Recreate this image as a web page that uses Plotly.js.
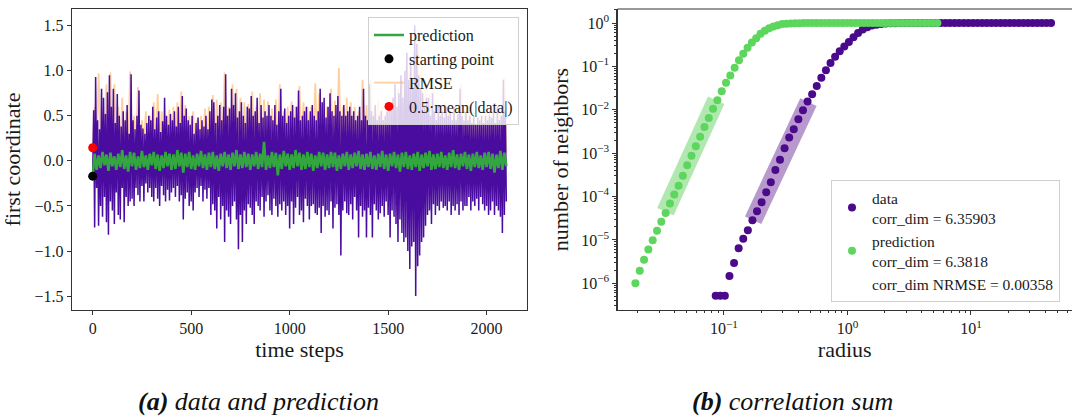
<!DOCTYPE html>
<html>
<head>
<meta charset="utf-8">
<script src="https://cdn.plot.ly/plotly-3.0.1.min.js"></script>
<style>body{margin:0;background:#fff}#plot{width:1072px;height:420px}</style>
</head>
<body>
<div id="plot"></div>
<script>
// ---------- (a) data and prediction ----------
const dataStep = 5;   // time steps between data samples
const dataSeries = [
-0.17,0.56,-0.74,0.93,-0.3,0.45,-0.72,0.35,-0.5,0.8,-0.62,0.7,-0.4,0.52,-0.68,0.76,-0.82,0.95,-0.45,0.6,
-0.55,0.8,-0.7,0.42,-0.35,0.74,-0.6,0.5,-0.65,0.38,-0.3,0.55,-0.68,0.45,-0.4,0.62,-0.5,0.3,-0.45,0.96,
-0.42,0.45,-0.5,0.35,-0.3,0.5,-0.38,0.78,-0.45,0.4,-0.28,0.36,-0.45,0.3,-0.25,0.42,-0.35,0.5,-0.3,0.45,
-0.4,0.6,-0.45,0.35,-0.3,0.48,-0.42,0.55,-0.5,0.32,-0.28,0.44,-0.38,0.7,-0.45,0.5,-0.32,0.4,-0.44,0.52,
-0.35,0.45,-0.3,0.55,-0.4,0.38,-0.28,0.6,-0.45,0.42,-0.38,0.72,-0.65,0.5,-0.42,0.58,-0.35,0.45,-0.5,0.4,
-0.45,0.5,-0.55,0.3,-0.35,0.42,-0.3,0.48,-0.4,0.35,-0.28,0.45,-0.45,0.38,-0.32,0.5,-0.42,0.35,-0.3,0.55,
-0.6,0.68,-0.48,0.65,-0.55,0.42,-0.75,0.5,-0.4,0.62,-0.65,0.45,-0.5,0.6,-0.9,0.96,-0.55,0.5,-0.62,0.58,
-0.7,0.8,-0.5,0.62,-0.45,0.75,-0.65,0.48,-0.98,0.55,-0.6,0.65,-0.9,0.5,-0.55,0.42,-0.7,0.6,-0.48,0.58,
-0.52,0.72,-0.6,0.5,-0.7,0.55,-0.45,0.7,-0.5,0.42,-0.55,0.62,-0.4,0.48,-0.62,0.55,-0.45,0.5,-0.38,0.62,
-0.55,0.5,-0.6,0.45,-0.42,0.62,-0.5,0.4,-0.62,0.55,-0.48,0.8,-0.55,0.5,-0.45,0.58,-0.6,0.42,-0.5,0.5,
-0.75,0.55,-0.45,0.62,-0.7,0.48,-0.52,0.6,-0.4,0.78,-0.6,0.45,-0.55,0.5,-0.68,0.55,-0.42,0.6,-0.5,0.45,
-0.65,0.55,-0.5,0.62,-0.48,0.5,-0.58,0.45,-0.6,0.55,-0.52,0.8,-0.8,0.65,-0.5,0.7,-0.62,0.48,-0.55,0.6,
-0.6,0.75,-0.45,0.55,-0.75,0.5,-0.52,0.62,-0.48,0.72,-0.6,0.55,-1.05,0.5,-0.55,0.62,-0.45,0.5,-0.58,0.55,
-0.6,0.6,-0.48,0.5,-0.65,0.55,-0.4,0.45,-0.55,0.5,-0.85,0.6,-0.5,0.45,-0.62,0.8,-0.55,0.5,-0.85,0.45,
-0.52,0.85,-0.6,0.55,-0.85,0.5,-0.48,0.62,-0.55,0.45,-0.65,0.5,-0.58,0.55,-0.5,0.45,-0.62,0.5,-0.45,0.55,
-0.6,0.55,-0.85,0.62,-0.55,0.7,-0.62,0.85,-0.7,0.6,-0.9,0.75,-0.65,0.95,-0.8,0.7,-0.9,1.0,-0.85,1.2,
-1.0,0.9,-1.2,1.1,-0.95,0.8,-0.9,1.5,-1.5,1.3,-1.17,0.95,-1.05,0.8,-0.9,0.75,-0.85,0.62,-0.72,0.7,
-0.6,0.7,-0.55,0.5,-0.7,0.75,-0.48,0.55,-0.6,0.45,-0.5,0.62,-0.55,0.5,-0.45,0.55,-0.52,0.48,-0.5,0.6,
-0.55,0.5,-0.45,0.55,-0.6,0.45,-0.5,0.6,-0.55,0.45,-0.48,0.52,-0.6,0.8,-0.45,0.5,-0.55,0.45,-0.5,0.55,
-0.5,0.45,-0.4,0.5,-0.55,0.42,-0.45,0.5,-0.5,0.4,-0.42,0.48,-0.55,0.45,-0.4,0.5,-0.48,0.42,-0.55,0.5,
-0.5,0.45,-0.6,0.5,-0.55,0.48,-0.45,0.55,-0.6,0.42,-0.5,0.6,-0.55,0.45,-0.62,0.5,-0.8,0.9,-0.6,0.55,
-0.45
];
const predStep = 10;  // time steps between prediction / RMSE samples
const predictionSeries = [
-0.17,0.08,-0.1,0.06,-0.08,0.1,-0.05,0.07,-0.11,0.09,-0.06,0.05,-0.1,0.08,-0.07,0.12,-0.09,0.06,-0.12,0.1,
-0.06,0.09,-0.1,0.05,-0.08,0.11,-0.07,0.06,-0.1,0.08,-0.05,0.1,-0.09,0.07,-0.11,0.06,-0.08,0.1,-0.06,0.08,
-0.1,0.07,-0.09,0.12,-0.06,0.09,-0.13,0.08,-0.07,0.1,-0.09,0.06,-0.1,0.08,-0.06,0.11,-0.08,0.07,-0.1,0.09,
-0.07,0.1,-0.09,0.06,-0.11,0.08,-0.06,0.1,-0.08,0.07,-0.1,0.09,-0.06,0.12,-0.09,0.07,-0.08,0.1,-0.07,0.08,
-0.1,0.07,-0.06,0.1,-0.09,0.08,-0.07,0.21,-0.1,0.06,-0.08,0.1,-0.07,0.09,-0.16,0.07,-0.09,0.11,-0.06,0.08,
-0.1,0.07,-0.08,0.12,-0.06,0.09,-0.1,0.07,-0.09,0.1,-0.07,0.08,-0.11,0.06,-0.08,0.1,-0.06,0.09,-0.1,0.07,
-0.08,0.1,-0.07,0.09,-0.11,0.06,-0.09,0.08,-0.06,0.1,-0.1,0.07,-0.08,0.09,-0.06,0.11,-0.09,0.07,-0.1,0.08,
-0.07,0.1,-0.09,0.06,-0.1,0.08,-0.07,0.11,-0.09,0.07,-0.11,0.08,-0.06,0.1,-0.08,0.07,-0.12,0.09,-0.07,0.1,
-0.09,0.06,-0.1,0.08,-0.07,0.1,-0.11,0.07,-0.08,0.09,-0.06,0.11,-0.1,0.07,-0.09,0.08,-0.07,0.1,-0.08,0.06,
-0.1,0.09,-0.07,0.12,-0.08,0.07,-0.1,0.08,-0.06,0.1,-0.09,0.07,-0.11,0.08,-0.07,0.1,-0.08,0.06,-0.1,0.09,
-0.07,0.1,-0.09,0.08,-0.13,0.07,-0.08,0.11,-0.1,0.09,-0.06
];
const rmseSeries = [
0.15,0.6,0.1,0.97,0.2,0.55,0.12,0.85,0.1,0.98,0.15,0.85,0.2,0.6,0.1,0.7,0.15,0.55,0.1,0.99,
0.12,0.5,0.2,0.82,0.1,0.45,0.15,0.55,0.1,0.5,0.2,0.65,0.12,0.74,0.15,0.55,0.1,0.45,0.18,0.57,
0.1,0.6,0.15,0.65,0.12,0.77,0.2,0.62,0.1,0.5,0.15,0.55,0.1,0.45,0.2,0.5,0.12,0.58,0.15,0.6,
0.12,0.73,0.15,0.68,0.1,0.65,0.2,0.98,0.12,0.6,0.15,0.85,0.1,0.8,0.18,0.7,0.12,0.65,0.1,0.63,
0.15,0.77,0.1,0.6,0.2,0.75,0.12,0.68,0.15,0.66,0.1,0.58,0.18,0.68,0.12,0.85,0.1,0.55,0.15,0.6,
0.12,0.66,0.18,0.6,0.1,0.83,0.15,0.65,0.12,0.6,0.2,0.6,0.1,0.86,0.15,0.75,0.12,0.65,0.1,0.6,
0.15,0.8,0.1,0.67,0.2,1.03,0.12,0.6,0.15,0.7,0.1,0.65,0.18,0.6,0.12,0.55,0.15,0.9,0.1,0.62,
0.12,0.9,0.15,0.6,0.1,0.68,0.2,0.6,0.12,0.55,0.1,0.6,0.15,0.65,0.12,0.8,0.1,0.9,0.15,1.05,
0.2,1.15,0.15,1.2,0.1,1.45,0.2,1.1,0.12,0.85,0.15,0.75,0.1,0.8,0.15,0.65,0.12,0.6,0.1,0.65,
0.12,0.6,0.15,0.55,0.1,0.6,0.18,0.85,0.12,0.55,0.1,0.6,0.15,0.55,0.1,0.5,0.12,0.55,0.15,0.52,
0.1,0.55,0.15,0.5,0.12,0.6,0.1,0.55,0.15,0.92,0.1
];
const startPoint = {t: 0, value: -0.17};
const halfMeanAbs = {t: 0, value: 0.145};

// ---------- (b) correlation sum ----------
const dataRadius = [0.0857,0.09336,0.1017,0.1108,0.1207,0.1315,0.1433,0.1561,0.17,0.1852,
0.2018,0.2198,0.2395,0.2609,0.2842,0.3096,0.3373,0.3675,0.4004,0.4362,
0.4752,0.5177,0.564,0.6144,0.6693,0.7291,0.7943,0.8653,0.9427,1.027,
1.119,1.219,1.328,1.447,1.576,1.717,1.871,2.038,2.22,2.419,
2.635,2.871,3.127,3.407,3.711,4.043,4.404,4.798,5.227,5.694,
6.203,6.758,7.362,8.02,8.737,9.518,10.37,11.3,12.31,13.41,
14.61,15.92,17.34,18.89,20.58,22.44,24.45,26.63,29.01,31.61,
34.43,37.51,40.86,44.52];
const dataNeighbors = [5.13e-7,5.13e-7,5.13e-7,1.48e-6,2.95e-6,6.46e-6,1.07e-5,1.66e-5,2.82e-5,4.57e-5,
7.41e-5,1.26e-4,2.14e-4,4.07e-4,7.08e-4,1.29e-3,2.29e-3,3.55e-3,6.03e-3,9.77e-3,
0.0155,0.0229,0.0355,0.055,0.0813,0.12,0.166,0.224,0.288,0.363,
0.468,0.589,0.708,0.794,0.871,0.912,0.955,0.973,0.984,0.991,
0.995,0.997,0.998,0.999,1,1,1,1,1,1,
1,1,1,1,1,1,1,1,1,1,
1,1,1,1,1,1,1,1,1,1,
1,1,1,1];
const predRadius = [0.01919,0.0208,0.02254,0.02443,0.02648,0.0287,0.0311,0.03371,0.03654,0.03957,
0.04289,0.04648,0.05038,0.0546,0.05918,0.06414,0.06951,0.07531,0.08162,0.08846,
0.09587,0.1039,0.1126,0.122,0.1323,0.1433,0.1553,0.1683,0.1824,0.1977,
0.2143,0.2322,0.2517,0.2728,0.2956,0.3204,0.3472,0.3763,0.4079,0.442,
0.4791,0.5189,0.5624,0.6095,0.6606,0.716,0.776,0.841,0.9115,0.9876,
1.07,1.16,1.257,1.362,1.476,1.6,1.734,1.879,2.037,2.207,
2.392,2.593,2.81,3.045,3.3,3.577,3.876,4.201,4.553,4.935,5.348];
const predNeighbors = [1.0e-6,1.95e-6,3.47e-6,6.03e-6,9.77e-6,1.62e-5,2.63e-5,4.17e-5,6.92e-5,1.12e-4,
1.78e-4,3.02e-4,5.25e-4,8.71e-4,1.45e-3,2.4e-3,3.98e-3,6.46e-3,0.0105,0.0166,
0.0269,0.0417,0.0617,0.0933,0.138,0.195,0.269,0.355,0.447,0.562,
0.661,0.759,0.832,0.891,0.955,0.966,0.978,0.986,0.991,0.995,
0.997,0.998,0.999,1,1,1,1,1,1,1,
1,1,1,1,1,1,1,1,1,1,
1,1,1,1,1,1,1,1,1,1,1];
const dataFitRadius = [0.1722, 0.483];
const dataFitNeighbors = [2.84e-5, 0.01503];
const predFitRadius = [0.03357, 0.0865];
const predFitNeighbors = [4.47e-5, 0.0166];
const corrDimData = '6.35903';
const corrDimPred = '6.3818';
const corrDimNRMSE = '0.00358';

// ---------- build ----------
const tData = dataSeries.map((_, i) => i * dataStep);
const tPred = predictionSeries.map((_, i) => i * predStep);
const tRmse = rmseSeries.map((_, i) => i * predStep);

const FONT = '"Liberation Serif", "Times New Roman", serif';
const INDIGO = '#4b0a8c';
const LGREEN = '#5cd65c';
const TXT = '#1a1a1a';

const traces = [
  {x: tRmse, y: rmseSeries, type: 'scatter', mode: 'lines', name: 'RMSE',
   line: {color: 'rgba(255,170,80,0.55)', width: 1.8}, legend: 'legend', legendrank: 3, xaxis: 'x', yaxis: 'y'},
  {x: tData, y: dataSeries, type: 'scatter', mode: 'lines', name: 'data', showlegend: false,
   line: {color: '#4a0c9e', width: 1.5}, xaxis: 'x', yaxis: 'y'},
  {x: tPred, y: predictionSeries, type: 'scatter', mode: 'lines', name: 'prediction',
   line: {color: '#33a63f', width: 2.6}, legend: 'legend', legendrank: 1, xaxis: 'x', yaxis: 'y'},
  {x: [startPoint.t], y: [startPoint.value], type: 'scatter', mode: 'markers', name: 'starting point',
   marker: {color: '#000', size: 9}, legend: 'legend', legendrank: 2, xaxis: 'x', yaxis: 'y'},
  {x: [halfMeanAbs.t], y: [halfMeanAbs.value], type: 'scatter', mode: 'markers', name: '0.5·mean(|data|)',
   marker: {color: '#ff0000', size: 9}, legend: 'legend', legendrank: 4, xaxis: 'x', yaxis: 'y'},

  {x: predFitRadius, y: predFitNeighbors, type: 'scatter', mode: 'lines', showlegend: false,
   line: {color: 'rgba(80,205,80,0.45)', width: 18}, xaxis: 'x2', yaxis: 'y2'},
  {x: dataFitRadius, y: dataFitNeighbors, type: 'scatter', mode: 'lines', showlegend: false,
   line: {color: 'rgba(75,0,130,0.4)', width: 18}, xaxis: 'x2', yaxis: 'y2'},
  {x: dataRadius, y: dataNeighbors, type: 'scatter', mode: 'markers',
   name: 'data<br>corr_dim = ' + corrDimData,
   marker: {color: INDIGO, size: 8}, legend: 'legend2', xaxis: 'x2', yaxis: 'y2'},
  {x: predRadius, y: predNeighbors, type: 'scatter', mode: 'markers',
   name: 'prediction<br>corr_dim = ' + corrDimPred,
   marker: {color: LGREEN, size: 8}, legend: 'legend2', xaxis: 'x2', yaxis: 'y2'},
  {x: [null], y: [null], type: 'scatter', mode: 'markers',
   name: 'corr_dim NRMSE = ' + corrDimNRMSE,
   marker: {color: 'rgba(0,0,0,0)', size: 8}, legend: 'legend2', xaxis: 'x2', yaxis: 'y2'}
];

const minorX = [], minorY = [];
for (let d = -2; d <= 1; d++) for (let k = 2; k <= 9; k++) minorX.push(k * Math.pow(10, d));
for (let d = -7; d <= 0; d++) for (let k = 2; k <= 9; k++) minorY.push(k * Math.pow(10, d));

const axisCommon = {
  showgrid: false, zeroline: false, showline: true, linecolor: '#333', linewidth: 1.2,
  ticks: 'outside', ticklen: 4, tickwidth: 1, tickcolor: '#333',
  tickfont: {family: FONT, size: 16, color: TXT}
};
const titleFont = {family: FONT, size: 22, color: TXT};

const layout = {
  width: 1072, height: 420,
  margin: {l: 72, r: 0, t: 9, b: 110},
  paper_bgcolor: '#fff', plot_bgcolor: '#fff',
  font: {family: FONT, color: TXT},
  xaxis: Object.assign({}, axisCommon, {
    domain: [0, 0.455], range: [-105, 2205], mirror: true,
    tickvals: [0, 500, 1000, 1500, 2000],
    title: {text: 'time steps', font: titleFont, standoff: 2}
  }),
  yaxis: Object.assign({}, axisCommon, {
    domain: [0, 1], range: [-1.654, 1.684], mirror: true,
    tickvals: [-1.5, -1, -0.5, 0, 0.5, 1, 1.5], tickformat: '.1f',
    title: {text: 'first coordinate', font: titleFont, standoff: 8}
  }),
  xaxis2: Object.assign({}, axisCommon, {
    domain: [0.5455, 1], type: 'log', range: [-1.862, 1.818], anchor: 'y2',
    tickvals: [0.1, 1, 10], ticktext: ['10<sup>−1</sup>', '10<sup>0</sup>', '10<sup>1</sup>'],
    minor: {tickvals: minorX, ticks: 'outside', ticklen: 2, tickcolor: '#333'},
    title: {text: 'radius', font: titleFont, standoff: 0}
  }),
  yaxis2: Object.assign({}, axisCommon, {
    domain: [0, 1], type: 'log', range: [-6.616, 0.323], anchor: 'x2',
    tickvals: [1e-6, 1e-5, 1e-4, 1e-3, 1e-2, 1e-1, 1],
    ticktext: ['10<sup>−6</sup>', '10<sup>−5</sup>', '10<sup>−4</sup>', '10<sup>−3</sup>', '10<sup>−2</sup>', '10<sup>−1</sup>', '10<sup>0</sup>'],
    minor: {tickvals: minorY, ticks: 'outside', ticklen: 2, tickcolor: '#333'},
    title: {text: 'number of neighbors', font: titleFont, standoff: 6}
  }),
  legend: {
    x: 0.447, y: 0.973, xanchor: 'right', yanchor: 'top',
    bgcolor: 'rgba(255,255,255,0.8)', bordercolor: '#d0d0d0', borderwidth: 1,
    font: {family: FONT, size: 16, color: TXT}, traceorder: 'normal'
  },
  legend2: {
    x: 0.988, y: 0.027, xanchor: 'right', yanchor: 'bottom',
    bgcolor: 'rgba(255,255,255,0.8)', bordercolor: '#d0d0d0', borderwidth: 1,
    font: {family: FONT, size: 15.5, color: TXT}, traceorder: 'normal'
  },
  shapes: [
    {type: 'line', xref: 'paper', yref: 'paper', x0: 0.5455, x1: 1, y0: 1, y1: 1,
     line: {color: '#333', width: 1.2}}
  ],
  annotations: [
    {xref: 'paper', yref: 'paper', x: 0.186, y: -0.305, showarrow: false, xanchor: 'center', yanchor: 'middle',
     text: '<b><i>(a)</i></b> <i>data and prediction</i>', font: {family: FONT, size: 26, color: '#111'}},
    {xref: 'paper', yref: 'paper', x: 0.72, y: -0.305, showarrow: false, xanchor: 'center', yanchor: 'middle',
     text: '<b><i>(b)</i></b> <i>correlation sum</i>', font: {family: FONT, size: 26, color: '#111'}}
  ],
  showlegend: true
};

Plotly.newPlot('plot', traces, layout, {displayModeBar: false, staticPlot: true});
</script>
</body>
</html>
